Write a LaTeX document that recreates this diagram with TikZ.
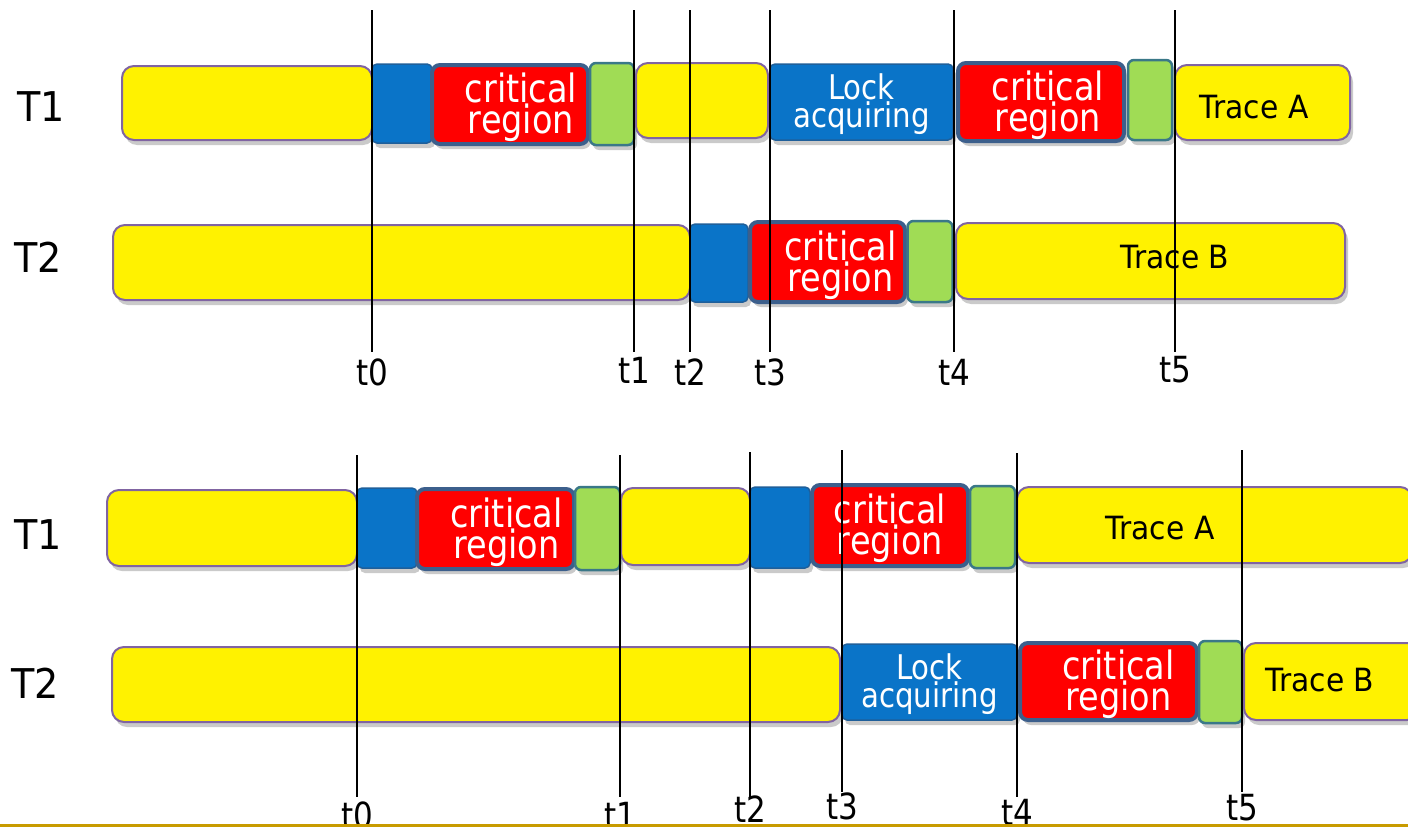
\documentclass[tikz,border=0pt]{standalone}
\usepackage{fontspec}
\setmainfont{DejaVu Sans}
\newfontfamily\cond[FakeStretch=0.86]{DejaVu Sans}
\newfontfamily\condb[FakeStretch=0.93]{DejaVu Sans}
\usetikzlibrary{shadows}
\definecolor{purp}{HTML}{8064A2}
\definecolor{bluC}{HTML}{0A74C8}
\definecolor{bluD}{HTML}{1F5F9A}
\definecolor{redB}{HTML}{3C5F8C}
\definecolor{grnC}{HTML}{A0DC55}
\definecolor{grnB}{HTML}{3A7888}
\definecolor{gold}{HTML}{C89B00}
\tikzset{
  shd/.style={drop shadow={shadow xshift=3pt,shadow yshift=-5pt,opacity=0.35,fill=black!60}},
  yel/.style={fill=yellow,draw=purp,line width=2pt,rounded corners=12pt,shd},
  blu/.style={fill=bluC,draw=bluD,line width=1.5pt,rounded corners=5pt,shd},
  rd/.style={fill=red,draw=redB,line width=4pt,rounded corners=8pt,shd},
  grn/.style={fill=grnC,draw=grnB,line width=2.5pt,rounded corners=6pt,shd},
  crit/.style={text=white,align=center,font=\cond\fontsize{39}{25}\selectfont,inner sep=0pt,yshift=-3pt},
  lockt/.style={text=white,align=center,font=\cond\fontsize{34}{22}\selectfont,inner sep=0pt,yshift=-2pt},
  trace/.style={text=black,font=\condb\fontsize{32}{32}\selectfont,inner sep=0pt},
  thr/.style={font=\condb\fontsize{41}{41}\selectfont,inner sep=0pt},
  tlab/.style={font=\cond\fontsize{36}{36}\selectfont,inner sep=0pt},
  tline/.style={line width=1.8pt,black}
}
\begin{document}
\begin{tikzpicture}[x=1pt,y=-1pt]
\useasboundingbox (0,0) rectangle (1408,827);
% ===== top diagram =====
\node[thr] (T1a) at (41,107) {T1};
\node[thr] (T2a) at (38,257) {T2};
% T1 row
\node[yel,minimum width=250pt,minimum height=74pt] (a1) at (247,103) {};
\node[blu,minimum width=60pt,minimum height=79pt] (a2) at (402,103.5) {};
\node[rd,minimum width=156pt,minimum height=79pt] (a3) at (510,104.5) {};
\node[crit] (a3t) at ([xshift=11pt]a3.center) {critical\\region};
\node[grn,minimum width=44pt,minimum height=82pt] (a4) at (612,104) {};
\node[yel,minimum width=132pt,minimum height=75pt] (a5) at (702,100.5) {};
\node[blu,minimum width=183pt,minimum height=76pt] (a6) at (861.5,102) {};
\node[lockt] (a6t) at (a6.center) {Lock\\acquiring};
\node[rd,minimum width=166pt,minimum height=78pt] (a7) at (1041,102) {};
\node[crit] (a7t) at ([xshift=7pt]a7.center) {critical\\region};
\node[grn,minimum width=44pt,minimum height=80pt] (a8) at (1150,100) {};
\node[yel,minimum width=175pt,minimum height=75pt] (a9) at (1262.5,102.5) {};
\node[trace] (a9t) at (1254,107) {Trace A};
% T2 row
\node[yel,minimum width=577pt,minimum height=75pt] (b1) at (401.5,262.5) {};
\node[blu,minimum width=58pt,minimum height=78pt] (b2) at (719,263) {};
\node[rd,minimum width=155pt,minimum height=80pt] (b3) at (827.5,262) {};
\node[crit] (b3t) at ([xshift=13pt]b3.center) {critical\\region};
\node[grn,minimum width=45pt,minimum height=81pt] (b4) at (930,261.5) {};
\node[yel,minimum width=389pt,minimum height=76pt] (b5) at (1150.5,261) {};
\node[trace] (b5t) at (1175,257) {Trace B};
% time lines
\foreach \n/\x/\y in {0/372/372,1/634/370,2/690/372,3/770/372,4/954/372,5/1175/370}{
  \coordinate (ta\n) at (\x,10);
  \coordinate (tb\n) at (\x,352);
  \draw[tline] (ta\n) -- (tb\n);
  \node[tlab] (tl\n) at (\x,\y) {t\n};
}
% ===== bottom diagram =====
\node[thr] (T1b) at (38,535) {T1};
\node[thr] (T2b) at (35,683) {T2};
\node[yel,minimum width=250pt,minimum height=76pt] (c1) at (232,528) {};
\node[blu,minimum width=60pt,minimum height=80pt] (c2) at (387,528) {};
\node[rd,minimum width=157pt,minimum height=80pt] (c3) at (495.5,529) {};
\node[crit] (c3t) at ([xshift=11pt]c3.center) {critical\\region};
\node[grn,minimum width=45pt,minimum height=83pt] (c4) at (597.5,528.5) {};
\node[yel,minimum width=129pt,minimum height=77pt] (c5) at (685.5,526.5) {};
\node[blu,minimum width=60pt,minimum height=81pt] (c6) at (780,527.5) {};
\node[rd,minimum width=156pt,minimum height=81pt] (c7) at (890,525.5) {};
\node[crit] (c7t) at (c7.center) {critical\\region};
\node[grn,minimum width=45pt,minimum height=82pt] (c8) at (992.5,527) {};
\node[yel,minimum width=395pt,minimum height=76pt] (c9) at (1214.5,525) {};
\node[trace] (c9t) at (1160,528) {Trace A};
\node[yel,minimum width=728pt,minimum height=75pt] (d1) at (476,684.5) {};
\node[blu,minimum width=175pt,minimum height=76pt] (d2) at (929.5,682) {};
\node[lockt] (d2t) at (d2.center) {Lock\\acquiring};
\node[rd,minimum width=177pt,minimum height=77pt] (d3) at (1108.5,681.5) {};
\node[crit] (d3t) at ([xshift=10pt]d3.center) {critical\\region};
\node[grn,minimum width=43pt,minimum height=82pt] (d4) at (1220.5,682) {};
\node[yel,minimum width=175pt,minimum height=77pt] (d5) at (1331.5,681.5) {};
\node[trace] (d5t) at (1320,680) {Trace B};
\foreach \n/\x/\ya/\yb/\yl in {0/357/455/797/815,1/620/455/797/815,2/750/452/797/809,3/842/450/792/806,4/1017/453/797/812,5/1242/450/792/808}{
  \coordinate (tc\n) at (\x,\ya);
  \coordinate (td\n) at (\x,\yb);
  \draw[tline] (tc\n) -- (td\n);
  \node[tlab] (tm\n) at (\x,\yl) {t\n};
}
\coordinate (gl) at (0,825.5);
\coordinate (gr) at (1408,825.5);
\draw[gold,line width=2.5pt] (gl) -- (gr);
\end{tikzpicture}
\end{document}
